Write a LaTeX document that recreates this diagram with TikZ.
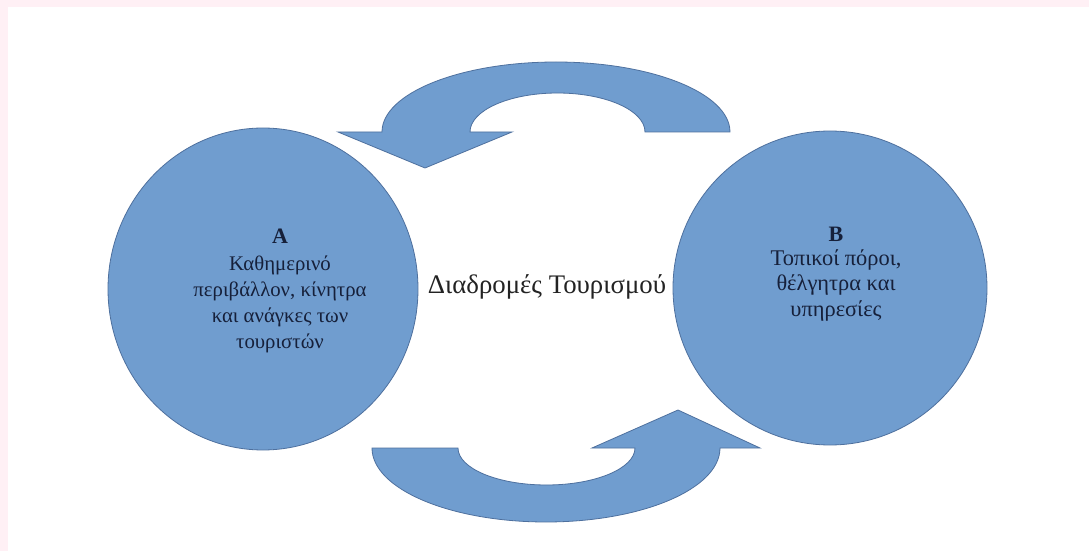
\documentclass[tikz,border=0pt]{standalone}
\usepackage{fontspec}
\setmainfont{Liberation Serif}
\usetikzlibrary{shapes.geometric}
\definecolor{pinkbg}{RGB}{255,240,245}
\definecolor{blobfill}{RGB}{112,157,207}
\definecolor{blobline}{RGB}{78,112,158}
\definecolor{navytext}{RGB}{22,32,58}
\definecolor{midtext}{RGB}{35,35,35}
\tikzset{
  blob/.style={fill=blobfill, draw=blobline, line width=0.4pt},
  roundbox/.style={ellipse, blob, inner sep=0pt},
  intext/.style={align=center, text=navytext, inner sep=0pt},
  midlabel/.style={text=midtext, font=\fontsize{13.4}{15}\selectfont, inner sep=0pt}
}
\begin{document}
\begin{tikzpicture}[x=0.5pt,y=-0.5pt]
\useasboundingbox (0,0) rectangle (1089,551);
\fill[pinkbg] (0,0) rectangle (1089,551);
\fill[white] (8,7) rectangle (1089,551);
% circles
\node[roundbox, minimum width=155pt, minimum height=161pt] (circA) at (263,289) {};
\node[roundbox, minimum width=157pt, minimum height=157pt] (circB) at (830,288) {};
% top curved arrow
\path[blob] (730,132) arc[start angle=0, end angle=-180, x radius=174, y radius=70]
  -- (338,132) -- (425,168) -- (512,132) -- (470,132)
  arc[start angle=180, end angle=360, x radius=87.5, y radius=39] -- cycle;
% bottom curved arrow
\path[blob] (372,448) arc[start angle=180, end angle=0, x radius=174, y radius=74]
  -- (760,448) -- (678,410) -- (592,448) -- (635,448)
  arc[start angle=0, end angle=180, x radius=88.5, y radius=37] -- cycle;
% texts
\node[intext, font=\fontsize{10.4}{13}\selectfont] (textA) at (280,291) {{\fontsize{11}{14}\selectfont\bfseries A}\\[0.5pt]Καθημερινό\\περιβάλλον, κίνητρα\\και ανάγκες των\\τουριστών};
\node[intext, font=\fontsize{11.2}{12.6}\selectfont] (textB) at (836,274) {{\fontsize{11}{14}\selectfont\bfseries B}\\[-0.5pt]Τοπικοί πόροι,\\θέλγητρα και\\υπηρεσίες};
\node[midlabel] (mid) at (547,287) {Διαδρομές Τουρισμού};
\end{tikzpicture}
\end{document}
